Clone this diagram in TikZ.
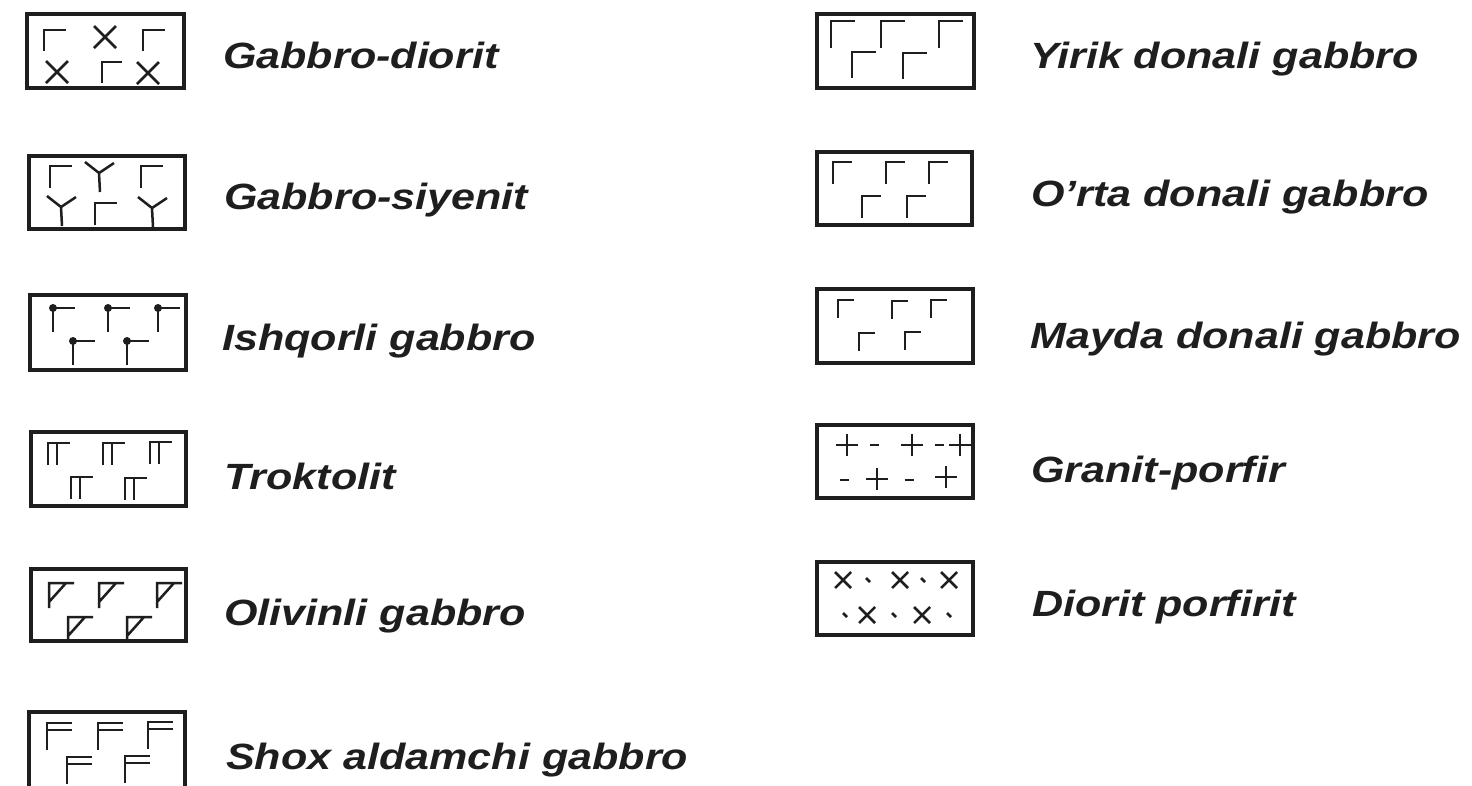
\documentclass[tikz,border=0pt]{standalone}
\usepackage{fontspec}
\setmainfont{Liberation Sans}
\usetikzlibrary{fit}
\definecolor{ink}{RGB}{30,30,30}
\newcommand{\lbltext}[1]{\scalebox{1.18}[1]{#1}}
\tikzset{
  legbox/.style={draw=ink, line width=4pt, inner sep=0pt, outer sep=0pt},
  sym/.style={draw=ink, line width=2.5pt},
  lbl/.style={anchor=base west, inner sep=0pt, text=ink,
    font=\fontsize{36.5}{40}\selectfont\bfseries\itshape},
  pics/gam/.style 2 args={code={\draw[sym] (0,#2) |- (#1,0);}},
  pics/xx/.style={code={\draw[sym] (-#1,-#1) -- (#1,#1) (-#1,#1) -- (#1,-#1);}},
  pics/yy/.style={code={\draw[sym] (-14,-11) -- (0,0) -- (15,-10) (0,0) -- (1,19);}},
  pics/dotgam/.style={code={\draw[sym] (0,24) |- (22,0); \fill[ink] (0,0) circle[radius=4pt];}},
  pics/dgam/.style={code={\draw[sym] (0,22) |- (22,0) (9,0) -- (9,22);}},
  pics/olgam/.style={code={\draw[sym] (0,#1) |- (25,0) (0,19) -- (17,0);}},
  pics/fgam/.style={code={\draw[sym] (0,27) |- (25,0) (0,7) -- (25,7);}},
  pics/plusmark/.style={code={\draw[sym] (-11,0) -- (11,0) (0,-11) -- (0,11);}},
  pics/minusmark/.style={code={\draw[sym] (-4.5,0) -- (4.5,0);}},
  pics/tickmark/.style={code={\draw[sym] (-2,-2) -- (2,2);}},
}
\begin{document}
\begin{tikzpicture}[x=1pt,y=-1pt]
\useasboundingbox[fill=white] (0,0) rectangle (1472,785);

% boxes
\node[legbox, fit={(27,14)(184,88)}] (b1) {};
\node[legbox, fit={(29,156)(185,229)}] (b2) {};
\node[legbox, fit={(30,295)(186,370)}] (b3) {};
\node[legbox, fit={(31,432)(186,506)}] (b4) {};
\node[legbox, fit={(31,569)(186,641)}] (b5) {};
\node[legbox, fit={(29,712)(185,800)}] (b6) {};
\node[legbox, fit={(817,14)(974,88)}] (b7) {};
\node[legbox, fit={(817,152)(972,225)}] (b8) {};
\node[legbox, fit={(817,289)(973,363)}] (b9) {};
\node[legbox, fit={(817,425)(973,498)}] (b10) {};
\node[legbox, fit={(817,562)(973,635)}] (b11) {};

% box 1: Gabbro-diorit
\pic at (44,30) {gam={22}{21}};
\pic at (143,30) {gam={22}{21}};
\pic at (102,62) {gam={20}{21}};
\pic at (105,37) {xx=11};
\pic at (57,72) {xx=11};
\pic at (148,73) {xx=11};

% box 2: Gabbro-siyenit
\pic at (50,166) {gam={22}{22}};
\pic at (141,166) {gam={22}{22}};
\pic at (95,203) {gam={22}{22}};
\pic at (99,173) {yy};
\pic at (61,207) {yy};
\pic at (152,208) {yy};

% box 3: Ishqorli gabbro
\pic at (53,308) {dotgam};
\pic at (108,308) {dotgam};
\pic at (158,308) {dotgam};
\pic at (73,341) {dotgam};
\pic at (127,341) {dotgam};

% box 4: Troktolit
\pic at (48,443) {dgam};
\pic at (103,443) {dgam};
\pic at (150,442) {dgam};
\pic at (71,477) {dgam};
\pic at (125,478) {dgam};

% box 5: Olivinli gabbro
\pic at (49,583) {olgam=25};
\pic at (99,583) {olgam=25};
\pic at (157,583) {olgam=25};
\pic at (68,617) {olgam=24};
\pic at (127,617) {olgam=24};

% box 6: Shox aldamchi gabbro
\pic at (47,723) {fgam};
\pic at (98,723) {fgam};
\pic at (148,722) {fgam};
\pic at (67,757) {fgam};
\pic at (125,756) {fgam};

% box 7: Yirik donali gabbro
\pic at (831,21) {gam={24}{27}};
\pic at (881,21) {gam={24}{27}};
\pic at (939,21) {gam={24}{27}};
\pic at (852,52) {gam={24}{26}};
\pic at (903,53) {gam={24}{26}};

% box 8: O'rta donali gabbro
\pic at (833,162) {gam={19}{22}};
\pic at (886,162) {gam={19}{22}};
\pic at (929,162) {gam={19}{22}};
\pic at (862,196) {gam={19}{22}};
\pic at (907,196) {gam={19}{22}};

% box 9: Mayda donali gabbro
\pic at (838,300) {gam={16}{18}};
\pic at (892,301) {gam={16}{18}};
\pic at (931,300) {gam={16}{18}};
\pic at (859,333) {gam={16}{18}};
\pic at (905,332) {gam={16}{18}};

% box 10: Granit-porfir
\pic at (847,445) {plusmark};
\pic at (912,445) {plusmark};
\pic at (960,445) {plusmark};
\pic at (877,479) {plusmark};
\pic at (946,477) {plusmark};
\pic at (874,445) {minusmark};
\pic at (939,445) {minusmark};
\pic at (844,480) {minusmark};
\pic at (909,480) {minusmark};

% box 11: Diorit porfirit
\pic at (843,580) {xx=8};
\pic at (900,580) {xx=8};
\pic at (949,580) {xx=8};
\pic at (867,615) {xx=8};
\pic at (922,615) {xx=8};
\pic at (868,580) {tickmark};
\pic at (923,580) {tickmark};
\pic at (845,615) {tickmark};
\pic at (894,615) {tickmark};
\pic at (949,615) {tickmark};

% labels
\node[lbl] (t1) at (223,68) {\lbltext{Gabbro-diorit}};
\node[lbl] (t2) at (224,209) {\lbltext{Gabbro-siyenit}};
\node[lbl] (t3) at (222,350) {\lbltext{Ishqorli gabbro}};
\node[lbl] (t4) at (224,489) {\lbltext{Troktolit}};
\node[lbl] (t5) at (224,625) {\lbltext{Olivinli gabbro}};
\node[lbl] (t6) at (226,769) {\lbltext{Shox aldamchi gabbro}};
\node[lbl] (t7) at (1030,68) {\lbltext{Yirik donali gabbro}};
\node[lbl] (t8) at (1031,206) {\lbltext{O{\char"0027}rta donali gabbro}};
\node[lbl] (t9) at (1030,348) {\lbltext{Mayda donali gabbro}};
\node[lbl] (t10) at (1031,482) {\lbltext{Granit-porfir}};
\node[lbl] (t11) at (1032,616) {\lbltext{Diorit porfirit}};
\end{tikzpicture}
\end{document}
